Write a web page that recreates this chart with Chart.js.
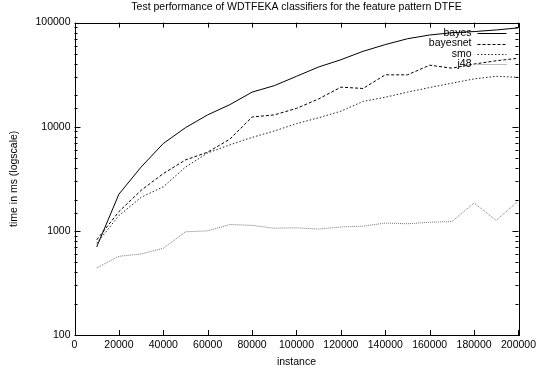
<!DOCTYPE html>
<html>
<head>
<meta charset="utf-8">
<script src="https://cdn.jsdelivr.net/npm/chart.js@4.4.1/dist/chart.umd.min.js"></script>
<style>
  html, body { margin: 0; padding: 0; background: #fff; }
  #wrap { width: 540px; height: 374px; }
</style>
</head>
<body>
<div id="wrap"><canvas id="perfChart"></canvas></div>
<script>
// instance counts on the x axis
const instances = [10000, 20000, 30000, 40000, 50000, 60000, 70000, 80000, 90000, 100000,
  110000, 120000, 130000, 140000, 150000, 160000, 170000, 180000, 190000, 200000];

// time in ms
const bayes = [700, 2250, 4100, 6900, 9800, 13000, 16300, 21500, 24800, 30500,
  37500, 44000, 53000, 61500, 70000, 76000, 80000, 82000, 85000, 89000];
const bayesnet = [820, 1530, 2450, 3550, 4800, 5700, 7600, 12400, 13000, 15000,
  18500, 24000, 23300, 31500, 31500, 39000, 36500, 40000, 43000, 45500];
const smo = [760, 1400, 2100, 2650, 4100, 5600, 6700, 7900, 9100, 10700,
  12200, 14100, 17500, 19200, 21500, 23800, 26200, 28800, 30500, 29800];
const j48 = [440, 570, 600, 680, 980, 1000, 1150, 1130, 1060, 1070,
  1040, 1090, 1110, 1190, 1170, 1210, 1230, 1850, 1260, 1950];

const xTicks = [0, 20000, 40000, 60000, 80000, 100000, 120000, 140000, 160000, 180000, 200000];

const FONT = 'Liberation Sans, Arial, sans-serif';

function pts(ys) {
  return instances.map((x, i) => ({ x: x, y: ys[i] }));
}

// gnuplot style: frame, inward ticks on all four sides
const framePlugin = {
  id: 'frame',
  afterDraw(chart) {
    const { ctx, chartArea: a, scales } = chart;
    ctx.save();
    ctx.strokeStyle = '#000';
    ctx.lineWidth = 1;
    ctx.beginPath();
    scales.x.ticks.forEach(t => {
      const px = Math.round(scales.x.getPixelForValue(t.value)) + 0.5;
      ctx.moveTo(px, a.bottom); ctx.lineTo(px, a.bottom - 5);
      ctx.moveTo(px, a.top); ctx.lineTo(px, a.top + 5);
    });
    scales.y.ticks.forEach(t => {
      const lg = Math.log10(t.value);
      const len = Math.abs(lg - Math.round(lg)) < 1e-6 ? 6 : 3;
      const py = Math.round(scales.y.getPixelForValue(t.value)) + 0.5;
      ctx.moveTo(a.left, py); ctx.lineTo(a.left + len, py);
      ctx.moveTo(a.right, py); ctx.lineTo(a.right - len, py);
    });
    ctx.stroke();
    ctx.strokeRect(Math.round(a.left) + 0.5, Math.round(a.top) + 0.5,
      Math.round(a.right - a.left), Math.round(a.bottom - a.top));
    ctx.restore();
  }
};

// legend inside the top right corner, text left of the line sample
const keyPlugin = {
  id: 'key',
  afterDatasetsDraw(chart) {
    const { ctx, chartArea: a } = chart;
    ctx.save();
    ctx.font = '10.5px ' + FONT;
    ctx.textAlign = 'right';
    ctx.textBaseline = 'middle';
    chart.data.datasets.forEach((ds, i) => {
      const y = a.top + 10.5 + i * 10.4;
      ctx.fillStyle = '#000';
      ctx.fillText(ds.label, a.right - 47, y);
      ctx.strokeStyle = ds.borderColor;
      ctx.lineWidth = 1;
      ctx.setLineDash(ds.borderDash || []);
      ctx.beginPath();
      ctx.moveTo(a.right - 41, Math.round(y) + 0.5);
      ctx.lineTo(a.right - 12, Math.round(y) + 0.5);
      ctx.stroke();
    });
    ctx.restore();
  }
};

const ctx = document.getElementById('perfChart').getContext('2d');

const perfChart = new Chart(ctx, {
  type: 'line',
  data: {
    datasets: [
      { label: 'bayes', data: pts(bayes), borderColor: '#000', borderWidth: 1 },
      { label: 'bayesnet', data: pts(bayesnet), borderColor: '#000', borderWidth: 1, borderDash: [3, 2] },
      { label: 'smo', data: pts(smo), borderColor: '#222', borderWidth: 1, borderDash: [1.5, 2] },
      { label: 'j48', data: pts(j48), borderColor: '#777', borderWidth: 1, borderDash: [1, 1] }
    ]
  },
  options: {
    responsive: true,
    maintainAspectRatio: false,
    animation: false,
    layout: { padding: { left: 0, right: 18, top: 0, bottom: 0 } },
    elements: { point: { radius: 0 }, line: { tension: 0 } },
    plugins: {
      legend: { display: false },
      tooltip: { enabled: false },
      title: {
        display: true,
        fullSize: false,
        text: 'Test performance of WDTFEKA classifiers for the feature pattern DTFE',
        color: '#000',
        font: { family: FONT, size: 10.5, weight: 'normal' },
        padding: { top: 1, bottom: 9 }
      }
    },
    scales: {
      x: {
        type: 'linear',
        min: 0,
        max: 200000,
        afterBuildTicks: s => { s.ticks = xTicks.map(v => ({ value: v })); },
        afterFit: s => { s.height = 39; },
        grid: { display: false, drawTicks: false },
        border: { display: false },
        ticks: {
          color: '#000',
          padding: 4,
          maxRotation: 0,
          autoSkip: false,
          font: { family: FONT, size: 10.5 },
          callback: v => String(v)
        },
        title: {
          display: true,
          text: 'instance',
          color: '#000',
          font: { family: FONT, size: 10.5 },
          padding: { top: 0, bottom: 6 }
        }
      },
      y: {
        type: 'logarithmic',
        min: 100,
        max: 100000,
        afterFit: s => { s.width = 74.5; },
        grid: { display: false, drawTicks: false },
        border: { display: false },
        ticks: {
          color: '#000',
          padding: 4,
          autoSkip: false,
          font: { family: FONT, size: 10.5 },
          callback: v => {
            const lg = Math.log10(v);
            return Math.abs(lg - Math.round(lg)) < 1e-6 ? String(v) : '';
          }
        },
        title: {
          display: true,
          text: 'time in ms (logscale)',
          color: '#000',
          font: { family: FONT, size: 10.5 },
          padding: { top: 8 }
        }
      }
    }
  },
  plugins: [framePlugin, keyPlugin]
});
</script>
</body>
</html>
